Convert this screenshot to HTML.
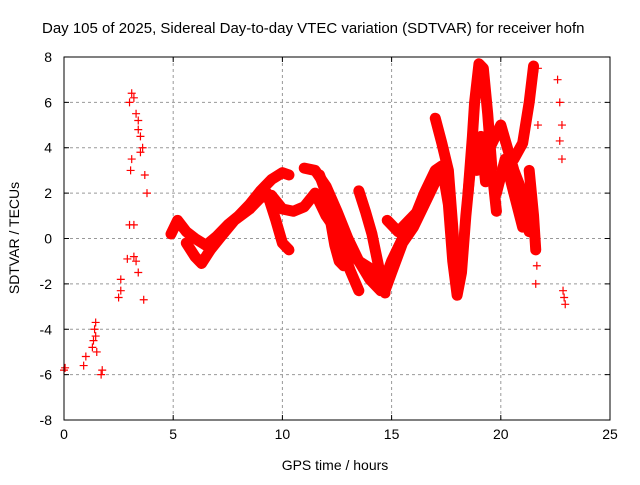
<!DOCTYPE html>
<html><head><meta charset="utf-8"><style>
body{margin:0;background:#fff}
svg text{font-family:"Liberation Sans",sans-serif;font-size:14px;fill:#000}
</style></head><body>
<svg id="chart" width="640" height="480" xmlns="http://www.w3.org/2000/svg">
<rect width="640" height="480" fill="#fff"/>
<text x="42" y="33" style="font-size:15px">Day 105 of 2025, Sidereal Day-to-day VTEC variation (SDTVAR) for receiver hofn</text>
<text x="335" y="470" text-anchor="middle">GPS time / hours</text>
<text transform="translate(19,238) rotate(-90)" text-anchor="middle">SDTVAR / TECUs</text>
<g id="grid"></g><g id="marks"></g><g id="axes"></g>
</svg>
<script>
const xTicks=[0,5,10,15,20,25];
const yTicks=[-8,-6,-4,-2,0,2,4,6,8];
const tracks=[
 [[4.9,0.2],[5.2,0.8],[5.6,0.3],[6,0],[6.5,-0.3],[7,0.1],[7.5,0.6],[8,1],[8.5,1.5],[9,2.1],[9.5,2.6],[10,2.9],[10.3,2.8]],
 [[5.6,-0.2],[6,-0.8],[6.3,-1.1],[6.7,-0.5],[7.2,0.1],[7.8,0.8],[8.5,1.3],[9,1.8],[9.5,1.9],[10,1.3],[10.5,1.2],[11,1.4],[11.5,2],[12,1],[12.5,0.3],[13,-0.5],[13.5,-1],[14,-1.3],[14.5,-2],[14.7,-2.3],[15,-1.5],[15.5,-0.2],[16,0.5],[16.5,1.5],[17,2.5],[17.4,2.8]],
 [[11,3.1],[11.5,3],[12,2.3],[12.5,1.2],[13,0],[13.5,-1],[14,-1.8],[14.5,-2.3],[15,-1],[15.5,0],[16,0.8],[16.5,2],[17,3],[17.3,3.2],[17.6,1.5],[17.8,-1],[18,-2.5],[18.2,-1.5],[18.4,1],[18.6,3]],
 [[9.3,2],[9.7,0.8],[10,-0.2],[10.3,-0.5]],
 [[11.7,2.8],[12,2],[12.2,0.8],[12.4,-0.3],[12.6,-1],[12.8,-1.2]],
 [[12.5,0],[12.8,-0.6],[13.1,-1.4],[13.5,-2.3]],
 [[13.5,2.1],[13.8,1.2],[14.1,0.2],[14.4,-1.2],[14.7,-2.4]],
 [[14.8,0.8],[15.3,0.3],[15.8,0.8],[16.3,1.3],[16.8,2.3],[17.3,2.8]],
 [[17,5.3],[17.3,4.2],[17.6,3],[17.8,0.5],[18,-2.4]],
 [[18.5,2],[18.7,4.5],[18.8,6],[19,7.7],[19.2,7.5],[19.4,5.5],[19.6,3],[19.8,1.2]],
 [[18.9,3],[19.1,4.5],[19.3,2.5],[19.5,4],[19.8,4.6],[20,5],[20.3,4],[20.6,3],[21,2],[21.3,0.3]],
 [[19.8,2],[20.2,3.5],[20.6,2],[21,0.5]],
 [[20.6,3.5],[21,4.2],[21.3,6],[21.5,7.6]],
 [[21.3,3],[21.5,1],[21.6,-0.5]]
];
const scatterX=[0,0.05,0.9,1.0,1.3,1.35,1.4,1.45,1.5,1.45,1.7,1.75,2.5,2.6,2.6,2.9,3.0,3.05,3.1,3.2,3.3,3.4,3.0,3.1,3.2,3.3,3.4,3.5,3.6,3.7,3.8,3.65,3.2,3.4,3.5,21.6,21.7,21.65,22.6,22.7,22.8,22.7,22.8,22.9,22.95,22.85,21.2,21.7];
const scatterY=[-5.8,-5.7,-5.6,-5.2,-4.8,-4.5,-4.0,-3.7,-5.0,-4.3,-6.0,-5.8,-2.6,-1.8,-2.3,-0.9,0.6,3.0,3.5,0.6,-1.0,-1.5,6.0,6.4,6.2,5.5,4.8,4.5,4.0,2.8,2.0,-2.7,-0.8,5.2,3.8,-2.0,5.0,-1.2,7.0,6.0,5.0,4.3,3.5,-2.6,-2.9,-2.3,5.2,7.5];
const X=h=>64+h*21.84, Y=v=>238.5-v*22.69;
const ns="http://www.w3.org/2000/svg";
const grid=document.getElementById('grid'),marks=document.getElementById('marks'),axes=document.getElementById('axes');
function mk(t,a,p){const e=document.createElementNS(ns,t);for(const k in a)e.setAttribute(k,a[k]);p.appendChild(e);return e;}
xTicks.forEach(t=>{
 if(t>0&&t<25){const l=mk('line',{x1:X(t),x2:X(t),y1:57,y2:420,stroke:'#999','stroke-dasharray':'3,3'},grid);
 
 }
 const tx=mk('text',{x:X(t),y:439,'text-anchor':'middle'},axes);tx.textContent=t;
 
 
 mk('line',{x1:X(t),x2:X(t),y1:420,y2:415,stroke:'#000'},axes);mk('line',{x1:X(t),x2:X(t),y1:57,y2:62,stroke:'#000'},axes);
});
yTicks.forEach(t=>{
 if(t>-8&&t<8){const l=mk('line',{x1:64,x2:610,y1:Y(t),y2:Y(t),stroke:'#999','stroke-dasharray':'3,3'},grid);
 
 }
 const tx=mk('text',{x:52,y:Y(t)+5,'text-anchor':'end'},axes);tx.textContent=t;
 
 
 mk('line',{x1:64,x2:69,y1:Y(t),y2:Y(t),stroke:'#000'},axes);mk('line',{x1:610,x2:605,y1:Y(t),y2:Y(t),stroke:'#000'},axes);
});
const fr=mk('rect',{x:64,y:57,width:546,height:363,fill:'none',stroke:'#000'},axes);


function plus(h,v){const x=X(h),y=Y(v);mk('path',{d:`M${x-4} ${y}H${x+4}M${x} ${y-4}V${y+4}`,stroke:'#f00','stroke-width':1.2},marks);}
tracks.forEach(tr=>{
 const p=mk('polyline',{points:tr.map(d=>X(d[0])+','+Y(d[1])).join(' '),fill:'none',stroke:'#f00','stroke-width':11,'stroke-linejoin':'round','stroke-linecap':'round'},marks);
 
 
 tr.forEach(d=>plus(d[0],d[1]));
});
scatterX.forEach((h,i)=>plus(h,scatterY[i]));
</script>
</body></html>
